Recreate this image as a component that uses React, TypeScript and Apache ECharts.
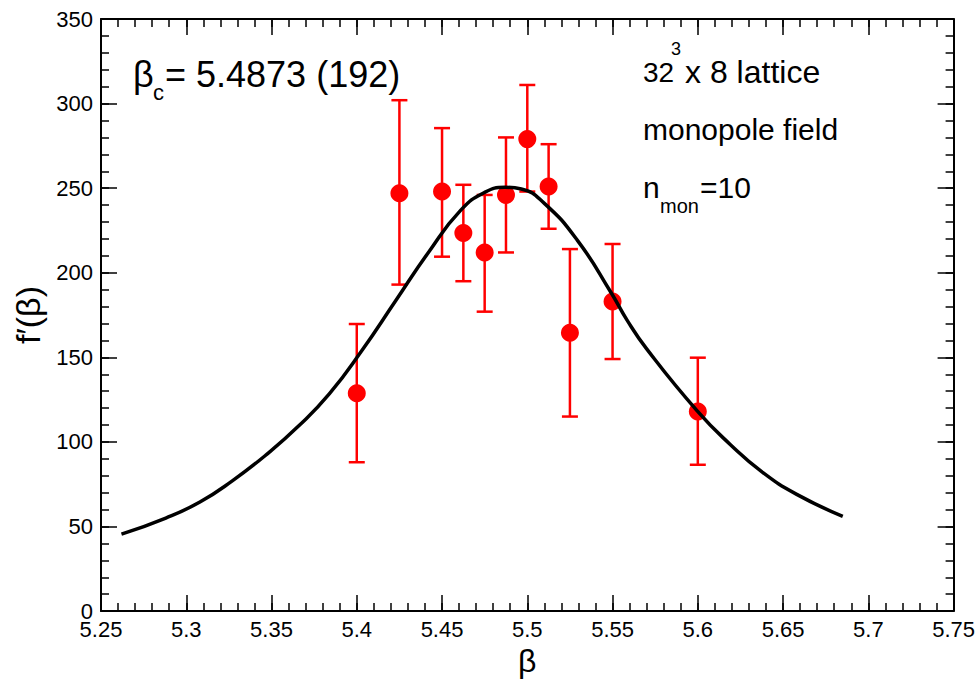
import React, { useEffect, useRef } from "react";
import * as echarts from "echarts";

// Measured points
const betaValues = [5.4, 5.425, 5.45, 5.4625, 5.475, 5.4875, 5.5, 5.5125, 5.525, 5.55, 5.6];
const fValues = [128.8, 247, 248, 223.5, 212, 246, 279, 251, 164.5, 183, 118];
const errLow = [88, 193, 209.5, 195, 177, 212, 248, 226, 115, 149, 86.5];
const errHigh = [169.7, 302, 285.5, 252, 246, 280, 311, 276, 214, 217, 149.8];

// Fitted curve
const fitBeta = [5.262, 5.288, 5.308, 5.327, 5.347, 5.366, 5.384, 5.403, 5.4225, 5.442, 5.461, 5.475, 5.487, 5.4965, 5.51, 5.5295, 5.549, 5.5585, 5.57, 5.5995, 5.619, 5.638, 5.658, 5.685];
const fitF = [45.5, 55, 64.5, 77, 92.5, 109.5, 128.5, 154, 183, 212, 237, 247.5, 250.5, 249.5, 241, 219, 188.5, 172, 155, 118.5, 98.5, 82, 69, 56];

const xTickMin = 5.25;
const xTickMax = 5.75;
const xTickStep = 0.05;
const xMinorStep = 0.01;
const yTickMin = 0;
const yTickMax = 350;
const yTickStep = 50;
const yMinorStep = 10;

const FONT = '"Liberation Sans", Arial, Helvetica, sans-serif';

export default function App() {
  const ref = useRef<HTMLDivElement>(null);
  useEffect(() => {
    if (!ref.current) return;
    const chart = echarts.init(ref.current, null, { renderer: "svg" });
    const axisLine = { show: true, onZero: false, lineStyle: { color: "#000", width: 2 } };
    const tick = { show: true, inside: true, length: 16, lineStyle: { color: "#000", width: 1.5 } };
    const minorTick = { show: true, inside: true, length: 8, lineStyle: { color: "#000", width: 1.5 } };
    const xBase = {
      type: "value" as const,
      min: xTickMin,
      max: xTickMax,
      interval: xTickStep,
      axisLine,
      axisTick: tick,
      splitLine: { show: false },
    };
    const yBase = {
      type: "value" as const,
      min: yTickMin,
      max: yTickMax,
      interval: yTickStep,
      axisLine,
      axisTick: tick,
      splitLine: { show: false },
    };
    const xMinorAxis = (position: string) => ({
      type: "value" as const,
      position,
      min: xTickMin,
      max: xTickMax,
      interval: xMinorStep,
      axisLine: { show: false, onZero: false },
      axisTick: minorTick,
      axisLabel: { show: false },
      splitLine: { show: false },
    });
    const yMinorAxis = (position: string) => ({
      type: "value" as const,
      position,
      min: yTickMin,
      max: yTickMax,
      interval: yMinorStep,
      axisLine: { show: false, onZero: false },
      axisTick: minorTick,
      axisLabel: { show: false },
      splitLine: { show: false },
    });
    const option: any = {
      animation: false,
      backgroundColor: "#fff",
      grid: { left: 101, right: 20, top: 19, bottom: 66, containLabel: false },
      xAxis: [
        {
          ...xBase,
          position: "bottom",
          name: "β",
          nameLocation: "middle",
          nameGap: 33,
          nameTextStyle: { fontFamily: FONT, fontSize: 32, color: "#000" },
          axisLabel: {
            show: true,
            margin: 11,
            lineHeight: 14,
            fontFamily: FONT,
            fontSize: 22,
            color: "#000",
            formatter: (v: number) => String(Math.round(v * 100) / 100),
          },
        },
        { ...xBase, position: "top", axisLabel: { show: false } },
        xMinorAxis("bottom"),
        xMinorAxis("top"),
      ],
      yAxis: [
        {
          ...yBase,
          position: "left",
          name: "f′(β)",
          nameLocation: "middle",
          nameGap: 52,
          nameRotate: 90,
          nameTextStyle: { fontFamily: FONT, fontSize: 34, color: "#000" },
          axisLabel: {
            show: true,
            margin: 8,
            lineHeight: 14,
            fontFamily: FONT,
            fontSize: 22,
            color: "#000",
          },
        },
        { ...yBase, position: "right", axisLabel: { show: false } },
        yMinorAxis("left"),
        yMinorAxis("right"),
      ],
      series: [
        {
          type: "custom",
          xAxisIndex: 0,
          yAxisIndex: 0,
          z: 2,
          data: betaValues.map((b, i) => [b, errLow[i], errHigh[i]]),
          renderItem: (params: any, api: any) => {
            const x = api.value(0);
            const lo = api.coord([x, api.value(1)]);
            const hi = api.coord([x, api.value(2)]);
            const cw = 8;
            const style = { stroke: "#ff0000", lineWidth: 2.5 };
            return {
              type: "group",
              children: [
                { type: "line", shape: { x1: lo[0], y1: lo[1], x2: hi[0], y2: hi[1] }, style },
                { type: "line", shape: { x1: hi[0] - cw, y1: hi[1], x2: hi[0] + cw, y2: hi[1] }, style },
                { type: "line", shape: { x1: lo[0] - cw, y1: lo[1], x2: lo[0] + cw, y2: lo[1] }, style },
              ],
            };
          },
        },
        {
          type: "scatter",
          xAxisIndex: 0,
          yAxisIndex: 0,
          z: 3,
          symbol: "circle",
          symbolSize: 18,
          itemStyle: { color: "#ff0000", opacity: 1 },
          data: betaValues.map((b, i) => [b, fValues[i]]),
        },
        {
          type: "line",
          xAxisIndex: 0,
          yAxisIndex: 0,
          z: 4,
          smooth: 0.5,
          showSymbol: false,
          symbol: "none",
          lineStyle: { color: "#000", width: 3.5 },
          data: fitBeta.map((b, i) => [b, fitF[i]]),
        },
      ],
      graphic: [
        { type: "text", x: 133, y: 74, style: { text: "β", fontFamily: FONT, fontSize: 36, fill: "#000", verticalAlign: "middle", align: "left" } },
        { type: "text", x: 153, y: 92, style: { text: "c", fontFamily: FONT, fontSize: 22, fill: "#000", verticalAlign: "middle", align: "left" } },
        { type: "text", x: 165, y: 74, style: { text: "= 5.4873 (192)", fontFamily: FONT, fontSize: 36, fill: "#000", verticalAlign: "middle", align: "left" } },
        { type: "text", x: 643, y: 72, style: { text: "32", fontFamily: FONT, fontSize: 28, fill: "#000", verticalAlign: "middle", align: "left" } },
        { type: "text", x: 671, y: 49, style: { text: "3", fontFamily: FONT, fontSize: 18, fill: "#000", verticalAlign: "middle", align: "left" } },
        { type: "text", x: 685, y: 72, style: { text: "x 8 lattice", fontFamily: FONT, fontSize: 32, fill: "#000", verticalAlign: "middle", align: "left" } },
        { type: "text", x: 643, y: 129, style: { text: "monopole field", fontFamily: FONT, fontSize: 30, fill: "#000", verticalAlign: "middle", align: "left" } },
        { type: "text", x: 643, y: 187, style: { text: "n", fontFamily: FONT, fontSize: 30, fill: "#000", verticalAlign: "middle", align: "left" } },
        { type: "text", x: 660, y: 206, style: { text: "mon", fontFamily: FONT, fontSize: 20, fill: "#000", verticalAlign: "middle", align: "left" } },
        { type: "text", x: 700, y: 187, style: { text: "=10", fontFamily: FONT, fontSize: 30, fill: "#000", verticalAlign: "middle", align: "left" } },
      ],
    };
    chart.setOption(option);
    return () => chart.dispose();
  }, []);
  return (
    <div
      ref={ref}
      style={{ position: "fixed", left: 0, top: 0, width: 978, height: 682, background: "#fff" }}
    />
  );
}
